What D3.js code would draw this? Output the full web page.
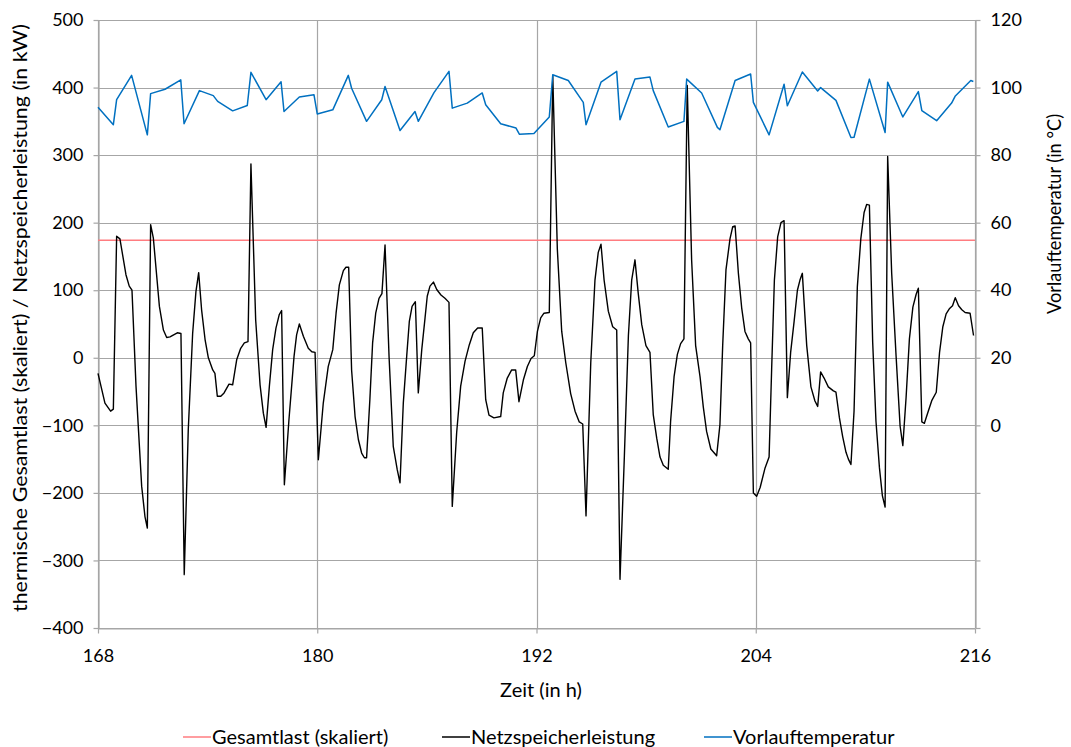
<!DOCTYPE html>
<html>
<head>
<meta charset="utf-8">
<script src="https://cdn.jsdelivr.net/npm/d3@7"></script>
<style>
  html, body { margin: 0; padding: 0; background: #fff; }
  svg text { font-family: Lato, "Open Sans", sans-serif; fill: #000; }
</style>
</head>
<body>
<svg id="chart" width="1071" height="747"></svg>
<script>
// Zeitachse (Stunden) und Achsenbeschriftungen
const xTicks = [168, 180, 192, 204, 216];
const leftTicks = [-400, -300, -200, -100, 0, 100, 200, 300, 400, 500];
const rightTicks = [-60, -40, -20, 0, 20, 40, 60, 80, 100, 120];

// Gesamtlast (skaliert), kW
const gesamtTime = [168, 216];
const gesamtValue = [174, 174];

// Netzspeicherleistung, kW
const netzTime = [
  168.00,168.38,168.69,168.84,169.02,169.20,169.53,169.71,169.86,170.08,170.39,170.57,170.70,170.88,171.03,171.36,
  171.58,171.76,171.94,172.34,172.54,172.72,172.94,173.18,173.36,173.51,173.67,173.86,174.04,174.28,174.40,174.53,
  174.72,174.90,175.17,175.37,175.59,175.81,176.01,176.21,176.37,176.63,176.87,177.05,177.20,177.38,177.56,177.74,
  177.92,178.05,178.20,178.45,178.73,178.87,179.02,179.24,179.51,179.70,179.88,180.06,180.33,180.60,180.85,181.03,
  181.21,181.43,181.57,181.72,181.88,182.07,182.25,182.43,182.58,182.70,182.88,183.03,183.20,183.38,183.54,183.71,
  183.93,184.16,184.38,184.53,184.71,184.90,185.04,185.19,185.37,185.53,185.72,185.90,186.02,186.17,186.36,186.54,
  186.77,186.99,187.21,187.39,187.63,187.85,188.09,188.32,188.54,188.78,189.03,189.22,189.40,189.67,190.04,190.18,
  190.40,190.64,190.86,191.04,191.28,191.50,191.70,191.88,192.05,192.23,192.41,192.70,192.89,193.14,193.38,193.60,
  193.87,194.11,194.34,194.53,194.71,194.97,195.20,195.38,195.53,195.70,195.93,196.17,196.39,196.57,196.81,197.03,
  197.21,197.39,197.57,197.76,197.99,198.21,198.39,198.58,198.76,198.94,199.21,199.34,199.53,199.71,199.89,200.07,
  200.25,200.49,200.71,200.95,201.13,201.31,201.54,201.86,202.04,202.19,202.37,202.59,202.74,202.87,203.05,203.23,
  203.41,203.59,203.72,203.87,204.05,204.24,204.51,204.73,204.87,205.02,205.20,205.38,205.55,205.73,205.91,206.10,
  206.28,206.42,206.55,206.79,207.02,207.24,207.39,207.55,207.74,207.97,208.25,208.39,208.58,208.76,208.94,209.07,
  209.21,209.38,209.56,209.75,209.93,210.07,210.22,210.40,210.58,210.77,210.93,211.08,211.22,211.44,211.68,211.90,
  212.05,212.23,212.41,212.60,212.78,212.90,213.09,213.23,213.42,213.64,213.88,214.06,214.24,214.42,214.61,214.77,
  214.92,215.10,215.28,215.46,215.73,215.92
];
const netzValue = [
  -23,-67,-79,-76,180,176,123,106,100,-42,-190,-235,-252,197,177,76,
  41,30,31,37,36,-321,-107,36,98,126,71,27,0,-18,-23,-57,
  -57,-52,-39,-40,-3,14,22,24,287,56,-40,-82,-103,-42,12,44,
  64,70,-188,-92,2,34,50,32,14,9,8,-151,-67,-13,12,66,
  108,129,134,134,-18,-87,-121,-141,-148,-148,-62,22,66,88,95,167,
  2,-131,-166,-185,-67,4,54,76,83,-52,12,59,91,106,112,101,
  93,88,82,-220,-111,-42,-5,19,37,44,44,-62,-85,-89,-87,-52,
  -30,-18,-18,-65,-33,-13,-1,3,39,59,66,67,418,161,39,-7,
  -53,-79,-95,-98,-234,-7,115,156,168,115,69,46,41,-328,-145,33,
  115,145,95,49,18,8,-84,-119,-147,-159,-165,-94,-28,5,21,28,
  403,145,18,-28,-73,-109,-135,-145,-99,18,130,176,194,195,125,74,
  39,28,22,-200,-205,-192,-163,-147,-17,115,179,200,203,-59,8,54,
  100,115,125,18,-43,-64,-72,-21,-30,-43,-49,-51,-89,-117,-140,-150,
  -158,-79,105,176,215,227,226,23,-94,-163,-204,-221,298,125,3,-101,
  -130,-58,28,75,94,103,-95,-97,-81,-63,-51,8,46,65,73,77,
  89,77,71,67,66,33
];

// Vorlauftemperatur, °C
const vorlaufTime = [
  168.00,168.84,169.02,169.84,170.70,170.88,171.67,172.53,172.71,173.55,174.31,174.55,175.37,176.17,176.37,177.20,
  178.02,178.18,179.02,179.82,180.00,180.85,181.70,181.88,182.70,183.53,183.71,184.53,185.35,185.53,186.39,187.21,
  187.39,188.21,189.03,189.22,190.04,190.88,191.06,191.86,192.70,192.89,193.74,194.56,194.71,195.53,196.39,196.57,
  197.39,198.21,198.39,199.21,200.07,200.22,201.04,201.90,202.04,202.87,203.72,203.87,204.73,205.55,205.73,206.55,
  207.39,207.55,208.39,209.21,209.38,210.22,211.08,211.22,212.05,212.90,213.09,213.90,214.72,214.91,215.77,215.91
];
const vorlaufValue = [
  94.2,89.0,96.4,103.6,86.0,98.2,99.5,102.3,89.3,99.1,97.6,95.9,93.1,94.7,104.5,96.4,
  101.7,92.9,97.2,97.9,92.2,93.4,103.6,99.8,90.0,96.4,100.3,87.3,92.9,90.0,98.5,104.8,
  93.9,95.4,98.4,94.9,89.3,88.0,86.2,86.4,91.3,103.8,102.1,95.6,89.0,101.6,104.8,90.5,
  102.5,103.1,99.1,88.3,90.0,102.5,98.4,88.2,87.5,102.1,104.0,95.6,86.0,101.0,94.6,104.6,
  99.0,100.0,96.2,85.2,85.3,102.5,86.7,101.6,91.3,98.8,93.2,90.2,95.4,97.4,102.1,101.8
];

const seriesNames = ["Gesamtlast (skaliert)", "Netzspeicherleistung", "Vorlauftemperatur"];
const seriesColors = ["#ff7c80", "#000000", "#0070c0"];

const svg = d3.select("#chart");
const plotLeft = 98, plotRight = 975, plotTop = 20, plotBottom = 628;

const x = d3.scaleLinear().domain([168, 216]).range([plotLeft, plotRight]);
const y = d3.scaleLinear().domain([-400, 500]).range([plotBottom, plotTop]);
const y2 = d3.scaleLinear().domain([-60, 120]).range([plotBottom, plotTop]);

const gridColor = "#a6a6a6";

// Gitternetz
svg.append("g").selectAll("line").data(leftTicks).join("line")
  .attr("x1", plotLeft).attr("x2", plotRight)
  .attr("y1", d => Math.round(y(d)) + 0.5).attr("y2", d => Math.round(y(d)) + 0.5)
  .attr("stroke", gridColor).attr("stroke-width", 1.2);
svg.append("g").selectAll("line").data(xTicks).join("line")
  .attr("x1", d => Math.round(x(d)) + 0.5).attr("x2", d => Math.round(x(d)) + 0.5)
  .attr("y1", plotTop).attr("y2", plotBottom)
  .attr("stroke", gridColor).attr("stroke-width", 1.2);

function styleAxis(g) {
  g.select(".domain").attr("stroke", gridColor).attr("stroke-width", 1.2);
  g.selectAll(".tick line").attr("stroke", gridColor).attr("stroke-width", 1.2);
  g.selectAll(".tick text").attr("font-size", 18).attr("fill", "#000")
    .attr("font-family", "Lato, 'Open Sans', sans-serif");
}

svg.append("g").attr("transform", `translate(${plotLeft + 0.5},0)`)
  .call(d3.axisLeft(y).tickValues(leftTicks).tickSize(5).tickSizeOuter(0).tickPadding(10))
  .call(styleAxis);

svg.append("g").attr("transform", `translate(${plotRight + 0.5},0)`)
  .call(d3.axisRight(y2).tickValues(rightTicks).tickSize(5).tickSizeOuter(0).tickPadding(10)
    .tickFormat(d => d < 0 ? "" : d))
  .call(styleAxis);

svg.append("g").attr("transform", `translate(0,${plotBottom + 0.5})`)
  .call(d3.axisBottom(x).tickValues(xTicks).tickSize(5).tickSizeOuter(0).tickPadding(16))
  .call(styleAxis);

// Linien
const lineL = d3.line().x(d => x(d[0])).y(d => y(d[1]));
const lineR = d3.line().x(d => x(d[0])).y(d => y2(d[1]));

svg.append("path")
  .datum(d3.zip(gesamtTime, gesamtValue))
  .attr("d", lineL).attr("fill", "none")
  .attr("stroke", seriesColors[0]).attr("stroke-width", 1.5);

svg.append("path")
  .datum(d3.zip(netzTime, netzValue))
  .attr("d", lineL).attr("fill", "none")
  .attr("stroke", seriesColors[1]).attr("stroke-width", 1.4)
  .attr("stroke-linejoin", "round");

svg.append("path")
  .datum(d3.zip(vorlaufTime, vorlaufValue))
  .attr("d", lineR).attr("fill", "none")
  .attr("stroke", seriesColors[2]).attr("stroke-width", 1.5)
  .attr("stroke-linejoin", "round");

// Achsentitel
svg.append("text")
  .attr("transform", `translate(27,318) rotate(-90)`)
  .attr("text-anchor", "middle")
  .attr("font-size", 19)
  .attr("textLength", 588).attr("lengthAdjust", "spacingAndGlyphs")
  .text("thermische Gesamtlast (skaliert) / Netzspeicherleistung (in kW)");

svg.append("text")
  .attr("transform", `translate(1061,214) rotate(-90)`)
  .attr("text-anchor", "middle")
  .attr("font-size", 19)
  .attr("textLength", 200).attr("lengthAdjust", "spacingAndGlyphs")
  .text("Vorlauftemperatur (in °C)");

svg.append("text")
  .attr("x", 541).attr("y", 697)
  .attr("text-anchor", "middle")
  .attr("font-size", 20)
  .text("Zeit (in h)");

// Legende
const legendX = [183, 442, 704];
const legend = svg.append("g").selectAll("g").data(seriesNames).join("g")
  .attr("transform", (d, i) => `translate(${legendX[i]},737)`);
legend.append("line")
  .attr("x1", 0).attr("x2", 28).attr("y1", 0).attr("y2", 0)
  .attr("stroke", (d, i) => seriesColors[i]).attr("stroke-width", 1.5);
legend.append("text")
  .attr("x", 29).attr("y", 7)
  .attr("font-size", 20)
  .text(d => d);
</script>
</body>
</html>
